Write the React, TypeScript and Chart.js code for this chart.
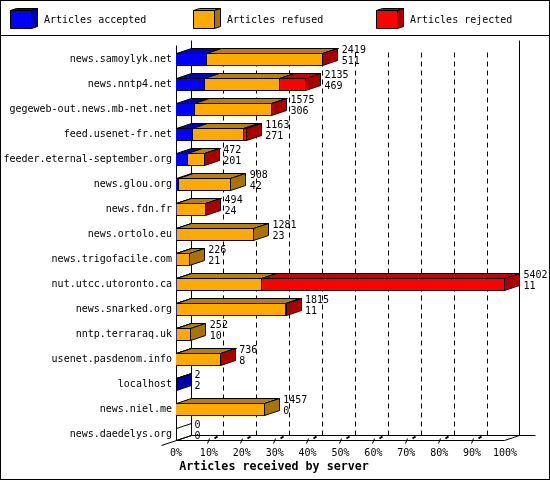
import { useEffect, useRef } from 'react';
import { Chart, registerables } from 'chart.js';

Chart.register(...registerables);

const servers = [
  'news.samoylyk.net', 'news.nntp4.net', 'gegeweb-out.news.mb-net.net', 'feed.usenet-fr.net',
  'feeder.eternal-september.org', 'news.glou.org', 'news.fdn.fr', 'news.ortolo.eu',
  'news.trigofacile.com', 'nut.utcc.utoronto.ca', 'news.snarked.org', 'nntp.terraraq.uk',
  'usenet.pasdenom.info', 'localhost', 'news.niel.me', 'news.daedelys.org',
];
const accepted = [511, 469, 306, 271, 201, 42, 24, 23, 21, 11, 11, 10, 8, 2, 0, 0];
const refused = [1906, 1239, 1266, 846, 270, 866, 468, 1258, 205, 1401, 1794, 242, 726, 0, 1457, 0];
const rejected = [2, 427, 3, 46, 1, 0, 2, 0, 0, 3990, 10, 0, 2, 0, 0, 0];
const totals = [2419, 2135, 1575, 1163, 472, 908, 494, 1281, 226, 5402, 1815, 252, 736, 2, 1457, 0];
const MAX_TOTAL = 5402;

const FONT = "10px 'DejaVu Sans Mono'";
const BOLD_FONT = "bold 11.67px 'DejaVu Sans Mono'";
const DEPTH_X = 15;
const DEPTH_Y = 5;

const fronts = ['#0000ff', '#ffaa00', '#ff0000'];
const tops = ['#0000cc', '#bb8000', '#cc0000'];
const sides = ['#0000aa', '#aa7300', '#aa0000'];
const legendX = [10, 193, 376];

function poly(ctx: CanvasRenderingContext2D, pts: number[][], fill?: string) {
  ctx.beginPath();
  pts.forEach((p, i) => (i ? ctx.lineTo(p[0], p[1]) : ctx.moveTo(p[0], p[1])));
  ctx.closePath();
  if (fill) {
    ctx.fillStyle = fill;
    ctx.fill();
  }
  ctx.stroke();
}

function line(ctx: CanvasRenderingContext2D, x0: number, y0: number, x1: number, y1: number) {
  ctx.beginPath();
  ctx.moveTo(x0, y0);
  ctx.lineTo(x1, y1);
  ctx.stroke();
}

const bars3d = {
  id: 'bars3d',
  // snap bars to whole pixels, neighbours share one border column
  afterDatasetsUpdate(chart: any) {
    chart.data.datasets.forEach((_: any, d: number) => {
      chart.getDatasetMeta(d).data.forEach((el: any) => {
        el.x = Math.round(el.x);
        el.base = Math.round(el.base);
        if (d > 0 && el.x > el.base && el.base > chart.chartArea.left) el.base -= 1;
      });
    });
  },
  beforeDatasetsDraw(chart: any) {
    const { ctx, chartArea, scales } = chart;
    const { left, right } = chartArea;
    const gx = (px: number) => Math.min(Math.floor(px), right - 1) + 0.5;
    const frontY = 440.5;
    const backY = frontY - DEPTH_Y;
    const topY = 40.5;
    ctx.save();
    ctx.strokeStyle = '#000';
    ctx.fillStyle = '#000';
    ctx.lineWidth = 1;

    // frame
    ctx.strokeRect(0.5, 0.5, chart.width - 1, chart.height - 1);
    line(ctx, 0, 35.5, chart.width, 35.5);

    // walls
    const x0 = gx(left);
    const x100 = gx(right);
    line(ctx, x0, topY + DEPTH_Y, x0, frontY);
    line(ctx, x0 + DEPTH_X, topY, x0 + DEPTH_X, backY);
    line(ctx, x100 + DEPTH_X, topY, x100 + DEPTH_X, backY);
    line(ctx, x0, frontY, x100, frontY);
    line(ctx, x0 + DEPTH_X, backY, x100 + 31, backY);
    line(ctx, x100, frontY, x100 + DEPTH_X, backY);
    line(ctx, x0 - 15, frontY + DEPTH_Y, x0 + DEPTH_X, backY);

    // dashed grid on the back wall and the marks on the floor
    scales.x.ticks.forEach((t: any) => {
      if (t.value <= 0 || t.value >= MAX_TOTAL) return;
      const x = gx(scales.x.getPixelForValue(t.value));
      ctx.setLineDash([5, 4]);
      line(ctx, x + DEPTH_X, backY, x + DEPTH_X, 50);
      ctx.setLineDash([]);
      line(ctx, x - 1, frontY + 3, x + 1, frontY - 2);
      ctx.lineWidth = 2;
      line(ctx, x + 6, frontY - 2, x + 9, frontY - 4);
      ctx.lineWidth = 1;
    });

    // top and side faces
    servers.forEach((_, i) => {
      const series = [accepted[i], refused[i], rejected[i]];
      const els = series.map((__, d) => chart.getDatasetMeta(d).data[i]);
      const yt = els[0].y - 6;
      const yb = els[0].y + 6;
      let last = -1;
      series.forEach((v, d) => {
        if (v > 0) last = d;
        if (v <= 0) return;
        const a = els[d].base + 0.5;
        const b = Math.max(els[d].x - 0.5, a);
        poly(ctx, [[a, yt], [b, yt], [b + DEPTH_X, yt - DEPTH_Y], [a + DEPTH_X, yt - DEPTH_Y]], tops[d]);
      });
      const end = last < 0 ? x0 : Math.max(els[last].x - 0.5, x0);
      poly(
        ctx,
        [[end, yt], [end + DEPTH_X, yt - DEPTH_Y], [end + DEPTH_X, yb - DEPTH_Y], [end, yb]],
        last < 0 ? undefined : sides[last]
      );
    });
    ctx.restore();
  },
  afterDatasetsDraw(chart: any) {
    const { ctx } = chart;
    ctx.save();
    ctx.fillStyle = '#000';
    ctx.strokeStyle = '#000';
    ctx.textBaseline = 'middle';
    ctx.textAlign = 'left';
    ctx.font = FONT;

    // numbers at the bar ends
    servers.forEach((_, i) => {
      const y = chart.getDatasetMeta(0).data[i].y;
      const end = chart.scales.x.getPixelForValue(totals[i]);
      ctx.fillText(String(totals[i]), end + DEPTH_X + 3.5, y - 9.5);
      ctx.fillText(String(accepted[i]), end + DEPTH_X + 3.5, y + 1.5);
    });

    // legend
    chart.data.datasets.forEach((ds: any, d: number) => {
      const x = legendX[d] + 0.5;
      poly(ctx, [[x, 10.5], [x + 6, 8.5], [x + 27, 8.5], [x + 21, 10.5]], tops[d]);
      poly(ctx, [[x + 21, 10.5], [x + 27, 8.5], [x + 27, 26.5], [x + 21, 28.5]], sides[d]);
      poly(ctx, [[x, 10.5], [x + 21, 10.5], [x + 21, 28.5], [x, 28.5]], fronts[d]);
      ctx.fillStyle = '#000';
      ctx.fillText(ds.label, legendX[d] + 34, 20);
    });

    ctx.font = BOLD_FONT;
    ctx.textAlign = 'center';
    ctx.fillText('Articles received by server', 274, 467);
    ctx.restore();
  },
};

export default function App() {
  const canvasRef = useRef<HTMLCanvasElement>(null);

  useEffect(() => {
    if (!canvasRef.current) return;
    const chart = new Chart(canvasRef.current, {
      type: 'bar',
      data: {
        labels: servers,
        datasets: [
          { label: 'Articles accepted', data: accepted },
          { label: 'Articles refused', data: refused },
          { label: 'Articles rejected', data: rejected },
        ].map((ds, i) => ({
          ...ds,
          backgroundColor: fronts[i],
          borderColor: '#000',
          borderWidth: 1,
          barThickness: 13,
          inflateAmount: 0,
        })),
      },
      plugins: [bars3d],
      options: {
        indexAxis: 'y',
        responsive: false,
        devicePixelRatio: 1,
        animation: false,
        layout: { padding: { top: 47, right: 45, left: 0, bottom: 0 } },
        plugins: { legend: { display: false }, tooltip: { enabled: false } },
        scales: {
          x: {
            stacked: true,
            min: 0,
            max: MAX_TOTAL,
            afterFit: (axis: any) => {
              axis.height = 33;
            },
            grid: { display: false, drawTicks: false },
            border: { display: false },
            ticks: {
              stepSize: MAX_TOTAL / 10,
              autoSkip: false,
              maxRotation: 0,
              padding: 0,
              color: '#000',
              font: { family: 'DejaVu Sans Mono', size: 10 },
              callback: (v: any) => `${Math.round((Number(v) / MAX_TOTAL) * 100)}%`,
            },
          },
          y: {
            stacked: true,
            afterFit: (axis: any) => {
              axis.width = 176;
            },
            grid: { display: false, drawTicks: false },
            border: { display: false },
            ticks: {
              autoSkip: false,
              padding: 4,
              color: '#000',
              font: { family: 'DejaVu Sans Mono', size: 10 },
            },
          },
        },
      },
    });
    return () => chart.destroy();
  }, []);

  return (
    <div style={{ position: 'absolute', left: 0, top: 0 }}>
      <canvas ref={canvasRef} width={550} height={480} />
    </div>
  );
}
